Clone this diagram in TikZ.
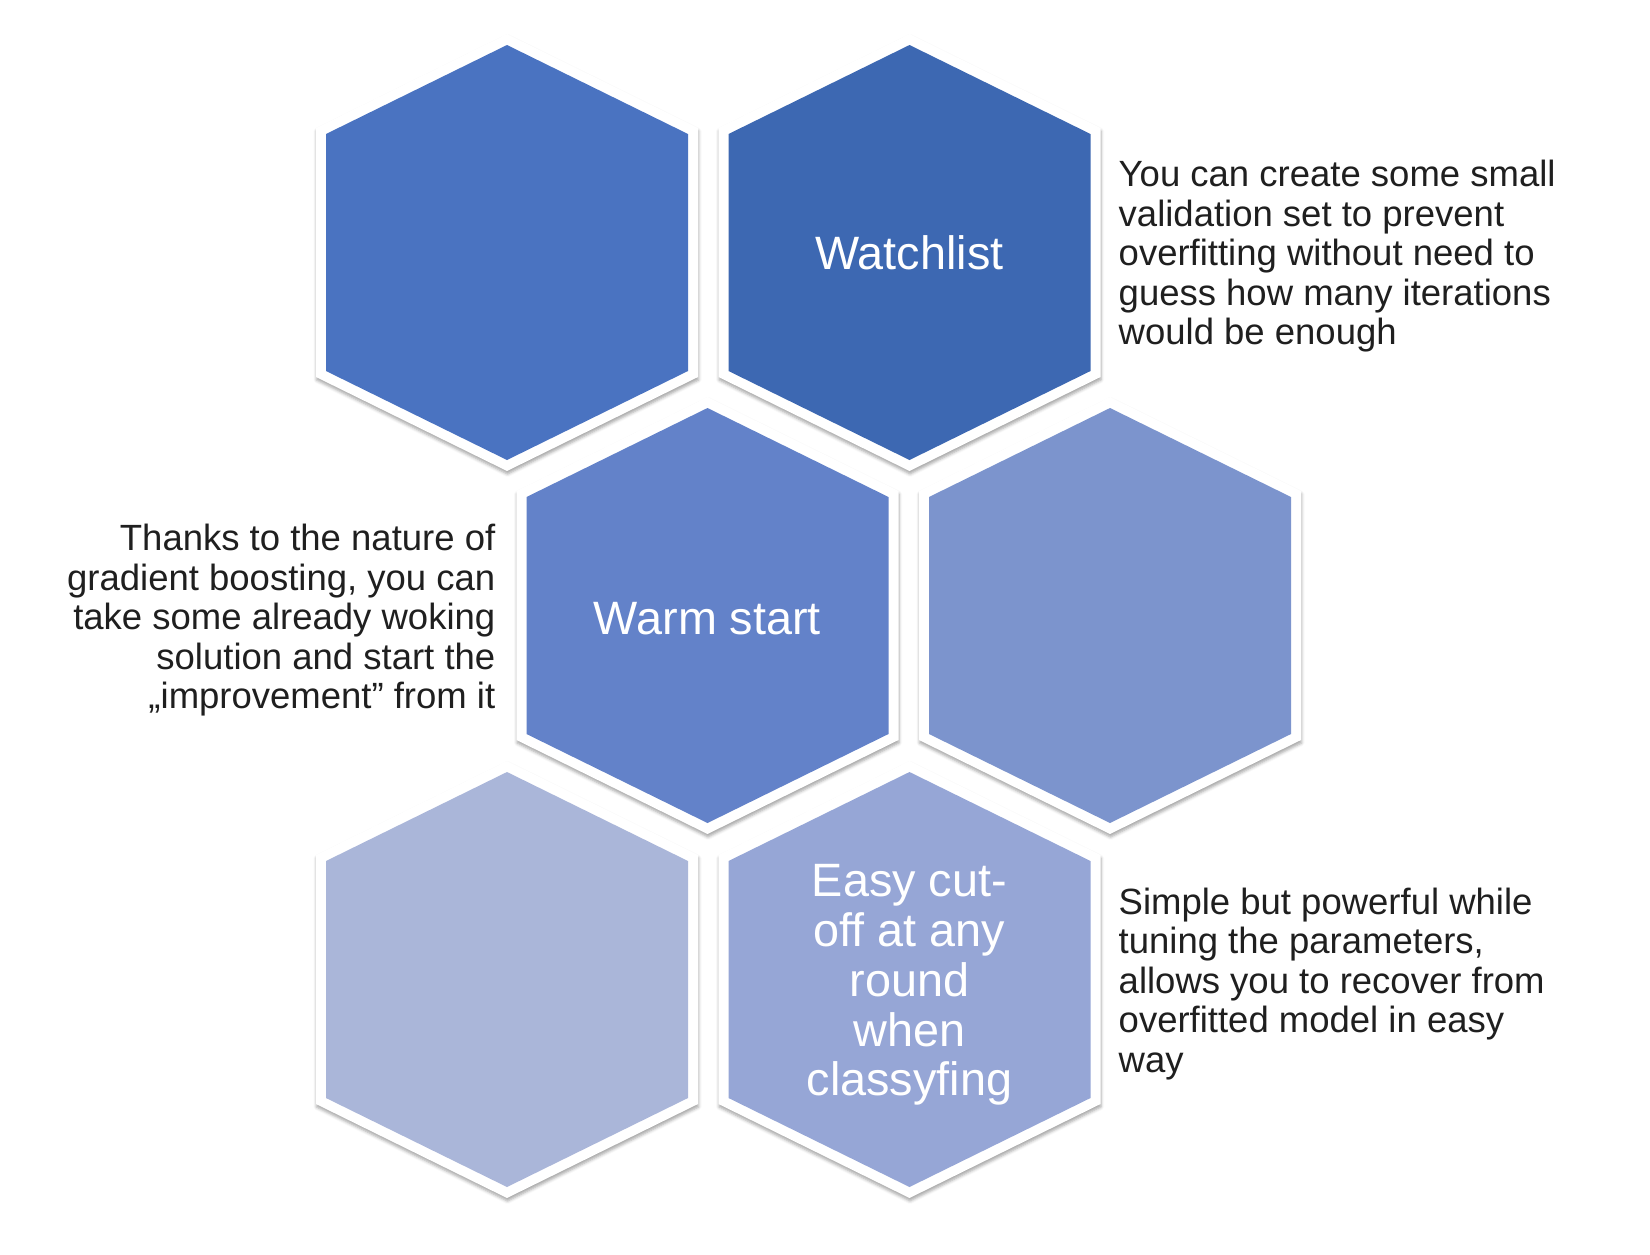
\documentclass[tikz,border=0pt]{standalone}
\usepackage{fontspec}
\setmainfont{Liberation Sans}
\usetikzlibrary{shadows.blur}

\definecolor{hexone}{HTML}{4A73C1}
\definecolor{hextwo}{HTML}{3D68B2}
\definecolor{hexthree}{HTML}{6382C9}
\definecolor{hexfour}{HTML}{7C94CD}
\definecolor{hexfive}{HTML}{AAB6D9}
\definecolor{hexsix}{HTML}{96A6D6}

% one honeycomb cell: white rim with shadow, coloured face
\newcommand{\hexcell}[2]{
	\begin{scope}[shift={#1}]
		\fill[hexrim] (0,-218.5) -- (191,-124.5) -- (191,124.5) -- (0,218.5) -- (-191,124.5) -- (-191,-124.5) -- cycle;
		\fill[#2] (0,-207.5) -- (181,-118.5) -- (181,118.5) -- (0,207.5) -- (-181,118.5) -- (-181,-118.5) -- cycle;
	\end{scope}
}

\begin{document}
\begin{tikzpicture}[x=1pt, y=-1pt,
		hexrim/.style={fill=white, blur shadow={shadow xshift=0.5pt, shadow yshift=-3pt, shadow blur radius=3pt, shadow opacity=35}},
		hextext/.style={text=white, align=center, inner sep=0pt, font=\fontsize{46.8}{49.8}\selectfont},
		note/.style={text=black!88, inner sep=0pt, font=\fontsize{36.5}{39.5}\selectfont}]
		\useasboundingbox (0,0) rectangle (1650,1254);

		\hexcell{(507,252.5)}{hexone}
		\hexcell{(909.5,252.5)}{hextwo}
		\hexcell{(707.5,615.5)}{hexthree}
		\hexcell{(1110,615.5)}{hexfour}
		\hexcell{(507,979.5)}{hexfive}
		\hexcell{(909.5,979.5)}{hexsix}

		\node[hextext] (watchlist) at (909.5,253) {Watchlist};
		\node[hextext] (warmstart) at (707.5,618.5) {Warm start};
		\node[hextext] (cutoff) at (909.5,985) {Easy cut-\\off at any\\round\\when\\classyfing};

		\node[note, anchor=west, align=left] (watchnote) at (1118.5,256.5) {You can create some small\\validation set to prevent\\overfitting without need to\\guess how many iterations\\would be enough};
		\node[note, anchor=east, align=right] (warmnote) at (495.5,620.5) {Thanks to the nature of\\gradient boosting, you can\\take some already woking\\solution and start the\\„improvement” from it};
		\node[note, anchor=west, align=left] (cutoffnote) at (1118.5,984) {Simple but powerful while\\tuning the parameters,\\allows you to recover from\\overfitted model in easy\\way};
	\end{tikzpicture}
\end{document}
